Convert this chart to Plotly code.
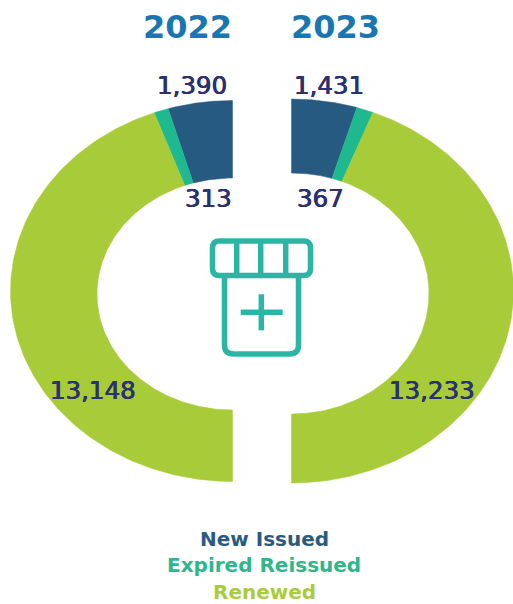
import numpy as np
import plotly.graph_objects as go

years = ["2022", "2023"]
categories = ["New Issued", "Expired Reissued", "Renewed"]
values_2022 = [1390, 313, 13148]
values_2023 = [1431, 367, 13233]
colors = ["#265a80", "#1fb98f", "#a8cb3a"]
label_colors = ["#2b5a80", "#2fb68a", "#a9cc3e"]
title_color = "#1a76b0"
number_color = "#2a3070"
icon_color = "#2cb5a5"
FONT = "DejaVu Sans"


def band(values, cx, direction, rx_o, ry_o, cy_o, rx_i, ry_i, cy_i, name):
    """Half-donut slices: the values share 180 degrees, measured from 12 o'clock."""
    total = sum(values)
    start = 0.0
    out = []
    for v, col, cat in zip(values, colors, categories):
        end = start + v / total * np.pi
        t = np.linspace(start, end, 160)
        xo = cx + direction * rx_o * np.sin(t)
        yo = cy_o - ry_o * np.cos(t)
        xi = cx + direction * rx_i * np.sin(t[::-1])
        yi = cy_i - ry_i * np.cos(t[::-1])
        out.append(go.Scatter(
            x=np.r_[xo, xi, xo[0]], y=np.r_[yo, yi, yo[0]],
            mode="lines", fill="toself", fillcolor=col,
            line=dict(color=col, width=0.5),
            name=cat, legendgroup=cat, showlegend=False,
            hoverinfo="text", text=f"{name} {cat}: {v:,}",
        ))
        start = end
    return out


fig = go.Figure()
for tr in band(values_2022, 232.5, -1, 222, 190.5, 291, 135.5, 116, 294, years[0]):
    fig.add_trace(tr)
for tr in band(values_2023, 291.5, 1, 222, 192, 291, 137.5, 120.5, 293.5, years[1]):
    fig.add_trace(tr)


def note(x, y, text, size, color, bold=False, shadow=None):
    fig.add_annotation(x=x, y=y, xref="x", yref="y", text=f"<b>{text}</b>" if bold else text,
                       showarrow=False, xanchor="center", yanchor="middle",
                       font=dict(family=FONT, size=size, color=color,
                                 shadow=shadow or "none"))


num_shadow = "0.4px 0 0 #2a3070, -0.4px 0 0 #2a3070"
note(187.5, 27, years[0], 32, title_color, True)
note(335, 27, years[1], 32, title_color, True)
note(192, 85, f"{values_2022[0]:,}", 24.5, number_color, shadow=num_shadow)
note(329, 85, f"{values_2023[0]:,}", 24.5, number_color, shadow=num_shadow)
note(208, 198, f"{values_2022[1]:,}", 24.5, number_color, shadow=num_shadow)
note(320, 198, f"{values_2023[1]:,}", 24.5, number_color, shadow=num_shadow)
note(93, 390, f"{values_2022[2]:,}", 24.5, number_color, shadow=num_shadow)
note(432, 390, f"{values_2023[2]:,}", 24.5, number_color, shadow=num_shadow)
for yy, cat, col in zip([539, 565, 592], categories, label_colors):
    note(264, yy, cat, 20, col, True)

# Pill-jar icon
icon_line = dict(color=icon_color, width=5.5)
lid = ("M219.5,241 L303.5,241 Q310.5,241 310.5,248 L310.5,268.5 Q310.5,275.5 303.5,275.5 "
       "L219.5,275.5 Q212.5,275.5 212.5,268.5 L212.5,248 Q212.5,241 219.5,241 Z")
body = "M224.5,275.5 L224.5,345 Q224.5,354 233.5,354 L289.5,354 Q298.5,354 298.5,345 L298.5,275.5"
shapes = [dict(type="path", path=lid), dict(type="path", path=body)]
for xd in [236.7, 260.7, 285.7]:
    shapes.append(dict(type="line", x0=xd, x1=xd, y0=241, y1=275.5))
shapes.append(dict(type="line", x0=240.7, x1=282.7, y0=312.3, y1=312.3))
shapes.append(dict(type="line", x0=261.3, x1=261.3, y0=294.3, y1=330.3))
for s in shapes:
    fig.add_shape(xref="x", yref="y", line=icon_line, **s)

fig.update_layout(
    width=513, height=604, margin=dict(l=0, r=0, t=0, b=0),
    paper_bgcolor="white", plot_bgcolor="white", showlegend=False,
    xaxis=dict(range=[0, 513], visible=False, fixedrange=True),
    yaxis=dict(range=[604, 0], visible=False, fixedrange=True),
)
fig.write_html(
    "out.html",
    config=dict(displayModeBar=False),
    post_script="document.body.style.margin='0';document.body.style.overflow='hidden';",
)
